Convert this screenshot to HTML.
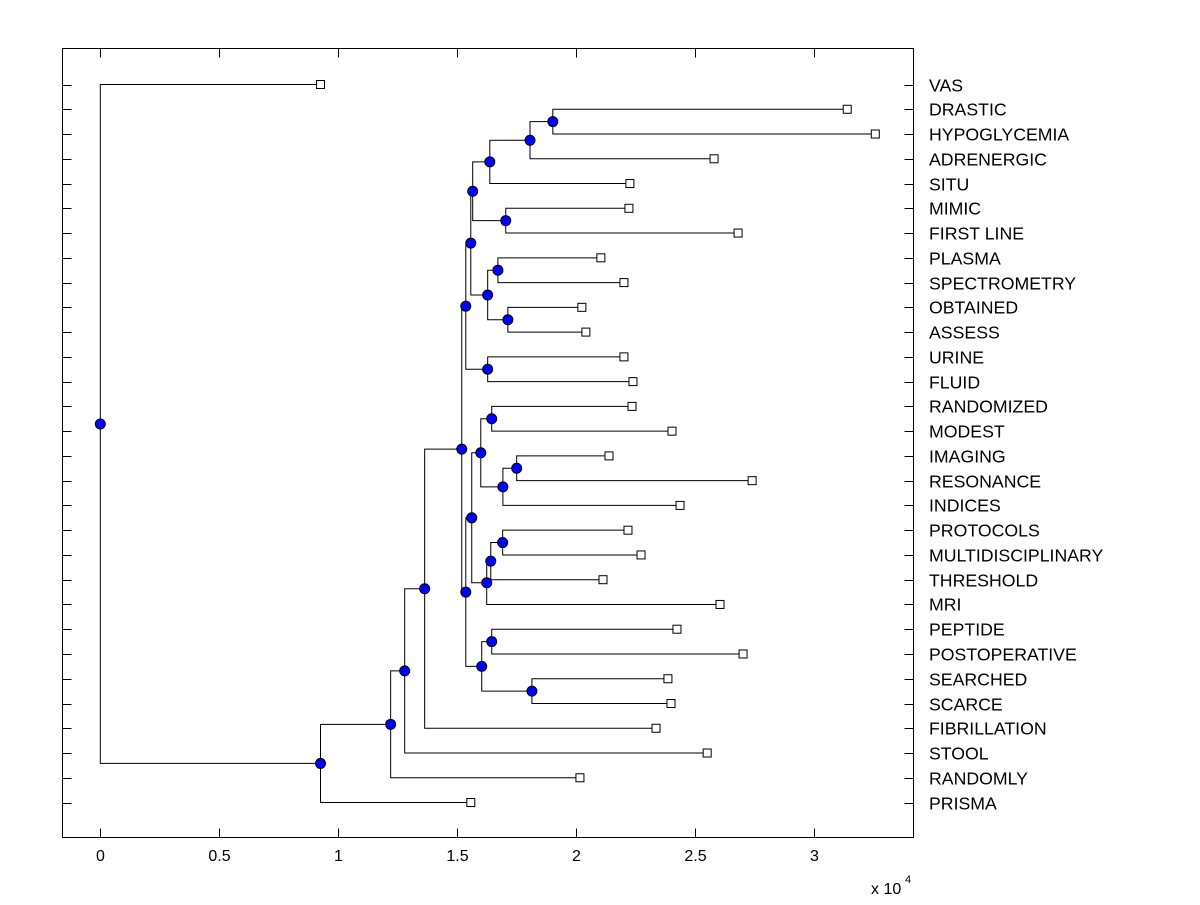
<!DOCTYPE html>
<html><head><meta charset="utf-8"><style>
body{margin:0;background:#fff}
svg text{font-family:"Liberation Sans",Arial,sans-serif;fill:#000}
</style></head><body>
<svg id="chart" width="1200" height="900" xmlns="http://www.w3.org/2000/svg">
<rect x="0" y="0" width="1200" height="900" fill="#fff"/>
<rect x="62.5" y="48.5" width="851" height="789" fill="none" stroke="#000" stroke-width="1"/>
<g id="g"></g>
<text x="871" y="894" font-size="16">x 10</text>
<text x="905" y="883" font-size="11">4</text>
</svg>
<script>
const leafNames=["VAS","DRASTIC","HYPOGLYCEMIA","ADRENERGIC","SITU","MIMIC","FIRST LINE","PLASMA","SPECTROMETRY","OBTAINED","ASSESS","URINE","FLUID","RANDOMIZED","MODEST","IMAGING","RESONANCE","INDICES","PROTOCOLS","MULTIDISCIPLINARY","THRESHOLD","MRI","PEPTIDE","POSTOPERATIVE","SEARCHED","SCARCE","FIBRILLATION","STOOL","RANDOMLY","PRISMA"];
const leafValues=[0.926,3.141,3.259,2.581,2.227,2.223,2.682,2.105,2.202,2.025,2.042,2.202,2.24,2.236,2.404,2.139,2.741,2.438,2.219,2.274,2.114,2.606,2.425,2.703,2.387,2.4,2.337,2.552,2.017,1.558];
const nodeIds=["root","A","B","C","D","E","F","H","J","L","N","O","M","K","P","Q","I","G","R","T","V","W","X","U","Y","Z","S","AA","BB"];
const nodeHeights=[0,0.926,1.221,1.28,1.364,1.52,1.537,1.558,1.566,1.638,1.807,1.903,1.705,1.629,1.672,1.714,1.629,1.537,1.562,1.6,1.646,1.693,1.751,1.625,1.642,1.692,1.604,1.646,1.815];
const nodeChildren=[["VAS","A"],["B","PRISMA"],["C","RANDOMLY"],["D","STOOL"],["E","FIBRILLATION"],["F","G"],["H","I"],["J","K"],["L","M"],["N","SITU"],["O","ADRENERGIC"],["DRASTIC","HYPOGLYCEMIA"],["MIMIC","FIRST LINE"],["P","Q"],["PLASMA","SPECTROMETRY"],["OBTAINED","ASSESS"],["URINE","FLUID"],["R","S"],["T","U"],["V","W"],["RANDOMIZED","MODEST"],["X","INDICES"],["IMAGING","RESONANCE"],["Y","MRI"],["Z","THRESHOLD"],["PROTOCOLS","MULTIDISCIPLINARY"],["AA","BB"],["PEPTIDE","POSTOPERATIVE"],["SEARCHED","SCARCE"]];
const xTicks=[0,0.5,1,1.5,2,2.5,3];
const xTickLabels=["0","0.5","1","1.5","2","2.5","3"];

const NS="http://www.w3.org/2000/svg";
const g=document.getElementById('g');
const xs=v=>100.3+v*237.8;
const rowY=i=>84.5+i*24.76;
function mk(tag,attrs){const e=document.createElementNS(NS,tag);for(const k in attrs)e.setAttribute(k,attrs[k]);g.appendChild(e);return e;}
xTicks.forEach((t,i)=>{
 const x=Math.round(xs(t))+0.5;
 let e=mk('line',{x1:x,x2:x,y1:837.5,y2:828.5,stroke:'#000'});
 
 
 e=mk('line',{x1:x,x2:x,y1:48.5,y2:57.5,stroke:'#000'});
 
 
 e=mk('text',{x:x,y:861,'font-size':16,'text-anchor':'middle'});
 e.textContent=xTickLabels[i];
 
 
});
const pos={};
leafNames.forEach((n,i)=>{pos[n]={x:xs(leafValues[i]),y:rowY(i),leaf:true};});
const idx={};nodeIds.forEach((n,i)=>idx[n]=i);
function resolve(n){
 if(pos[n])return pos[n];
 const i=idx[n];const c=nodeChildren[i].map(resolve);
 pos[n]={x:xs(nodeHeights[i]),y:(c[0].y+c[1].y)/2};return pos[n];
}
resolve("root");
leafNames.forEach((n,i)=>{
 const y=Math.round(rowY(i))+0.5;
 let e=mk('line',{x1:62.5,x2:71.5,y1:y,y2:y,stroke:'#000'});
 
 
 e=mk('line',{x1:904.5,x2:913.5,y1:y,y2:y,stroke:'#000'});
 
 
 e=mk('text',{x:929,y:y+6,'font-size':17.7});
 e.textContent=n;
 
 
});
nodeIds.forEach((n,i)=>{
 const p=pos[n];
 nodeChildren[i].forEach(c=>{
  const q=pos[c];
  const e=mk('path',{d:`M${p.x},${p.y}V${q.y}H${q.x}`,fill:'none',stroke:'#000','stroke-width':1});
  
  
 });
});
leafNames.forEach(n=>{
 const q=pos[n];
 const e=mk('rect',{x:q.x-4,y:q.y-4,width:8,height:8,fill:'#fff',stroke:'#000'});
 
 
});
nodeIds.forEach(n=>{
 const p=pos[n];
 const e=mk('circle',{cx:p.x,cy:p.y,r:5,fill:'#0000ff',stroke:'#000','stroke-width':1});
 
 
});
</script>
</body></html>
